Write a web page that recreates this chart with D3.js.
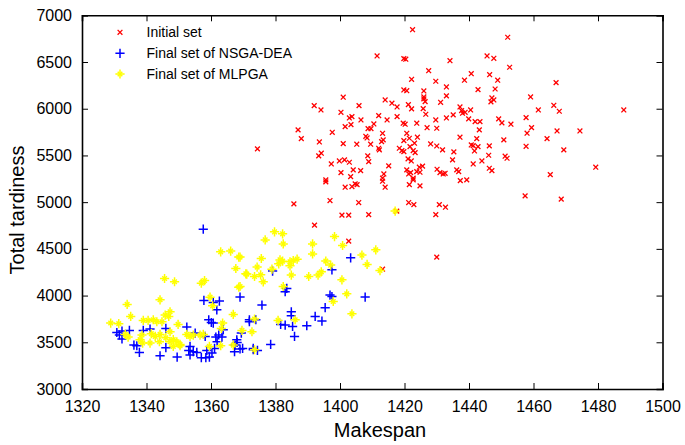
<!DOCTYPE html>
<html><head><meta charset="utf-8">
<script src="https://cdn.jsdelivr.net/npm/d3@7"></script>
<style>body{margin:0;background:#fff}svg{display:block}text{font-family:"Liberation Sans",Arial,sans-serif}</style>
</head><body><svg id="c" width="685" height="445"></svg>
<script>
const xTicks=[1320,1340,1360,1380,1400,1420,1440,1460,1480,1500];
const yTicks=[3000,3500,4000,4500,5000,5500,6000,6500,7000];
const seriesNames=["Initial set","Final set of NSGA-DEA","Final set of MLPGA"];
const initialSet=[
[1422.5,6846],[1411.5,6565],[1419.8,6536],[1420.4,6530],[1434.1,6514],[1445.6,6565],[1447.7,6540],[1427.5,6407],[1422.2,6315],[1429.7,6294],[1438.6,6305],[1440.7,6375],[1446.4,6364],[1448.9,6305],[1419.8,6201],[1420.7,6193],[1426,6190],[1433,6233],[1433,6137],[1442.8,6204],[1448.1,6211],[1447.1,6115],[1447.7,6094],[1446.8,6073],[1401,6123],[1426,6126],[1426,6105],[1426.4,6076],[1431.2,6069],[1414,6094],[1416.1,6059],[1417.7,6019],[1421.2,6044],[1422.2,5998],[1425.8,6001],[1426.6,5941],[1392,6033],[1394.1,5987],[1400.3,5962],[1405.9,6033],[1437.2,6019],[1437.7,5980],[1438,5952],[1438.8,5962],[1440.5,5987],[1433,5901],[1435.1,5934],[1439.9,5891],[1441.9,5862],[1443.4,5862],[1449.2,5891],[1402.9,5901],[1403.7,5915],[1406.5,5880],[1412,5926],[1414.6,5880],[1417.7,5915],[1401.6,5808],[1403.4,5830],[1408.7,5787],[1409.6,5787],[1410.5,5837],[1419.6,5845],[1420.2,5834],[1423.8,5845],[1429.7,5880],[1427,5797],[1430,5791],[1387,5773],[1388,5680],[1397.6,5748],[1393.6,5644],[1401,5626],[1405.2,5620],[1408,5705],[1408.4,5687],[1409.5,5620],[1413.2,5737],[1413.4,5666],[1412.9,5648],[1420.7,5737],[1419.8,5658],[1421.5,5684],[1424,5695],[1423.1,5631],[1421.7,5594],[1428.1,5623],[1430,5601],[1431.8,5559],[1437.2,5695],[1440.7,5612],[1441.3,5605],[1442.8,5594],[1442.4,5680],[1443.2,5773],[1446.3,5602],[1412,5577],[1412.2,5559],[1418.4,5577],[1419.2,5551],[1422.7,5551],[1423.3,5530],[1419.8,5541],[1393.4,5495],[1394.2,5524],[1408.6,5495],[1408.9,5434],[1421.1,5463],[1422.1,5441],[1435.3,5538],[1434.9,5452],[1441.7,5548],[1444,5441],[1446.1,5502],[1397.3,5409],[1399.8,5441],[1401.4,5452],[1402.9,5427],[1415.1,5388],[1424.6,5374],[1425.6,5385],[1441.3,5409],[1446.3,5363],[1447.1,5337],[1400.3,5316],[1404.1,5345],[1403.3,5273],[1406.4,5337],[1413.6,5302],[1413.2,5256],[1420.7,5345],[1421.3,5302],[1421.9,5316],[1423.8,5327],[1424.8,5320],[1422.7,5256],[1430.1,5352],[1431,5316],[1432,5302],[1432.6,5309],[1436.2,5345],[1436.8,5327],[1439.3,5238],[1437.3,5231],[1395.6,5238],
[1452,6765],[1452.6,6444],[1467,6279],[1459.1,6126],[1461.5,5987],[1466.3,6037],[1468,5973],[1488,5987],[1457.7,5905],[1459.4,5798],[1458,5738],[1453,5834],[1450.2,5848],[1467.3,5762],[1474.4,5762],[1464.2,5680],[1450.8,5666],[1457.7,5598],[1469.4,5559],[1451.2,5492],[1451.8,5470],[1479.3,5374],[1465.2,5295],[1457.4,5067],[1468.6,5032],
[1395.6,5217],[1401.6,5160],[1403.7,5167],[1404.7,5196],[1405.3,5188],[1413.2,5224],[1414,5160],[1421.5,5188],[1424.8,5174],[1422.7,5238],[1385.7,4982],[1396.9,5017],[1405.8,4996],[1421.3,4996],[1422.9,4974],[1430.8,4974],[1432.7,4946],[1400.6,4861],[1402.7,4861],[1408.9,4867],[1417.6,4904],[1429.7,4867],[1392.1,4754],[1402.7,4583],[1430,4412],[1413.2,4283],[1374.4,5570]
];
const nsgaDea=[
[1403.3,4404],[1397.5,4276],[1379.1,4262],[1383.5,4076],[1383,4041],[1396.9,4005],[1397.5,3990],[1407.8,3984],[1369,3984],[1375.8,3898],[1395.4,3870],[1384.9,3827],[1384.9,3784],[1392.3,3777],[1394.4,3727],[1371.9,3720],[1381.6,3691],[1383,3684],[1385.3,3670],[1389.7,3677],[1385.9,3563],[1369.4,3599],[1378.5,3477],[1369,3428],[1373.1,3420],[1374.4,3413],
[1357.6,4711],[1357.8,3948],[1360.7,3926],[1362.6,3941],[1361.8,3848],[1359.3,3741],[1360.1,3712],[1360.7,3706],[1371.9,3741],[1373.9,3741],[1363.8,3634],[1362.4,3578],[1361.5,3556],[1363.4,3556],[1368,3527],[1367.5,3470],[1368.1,3498],[1369.8,3434],[1373.1,3434],[1367.3,3399],[1361.1,3434],[1358.7,3413],[1360.3,3385],[1359.5,3342],[1358.4,3335],[1357,3335],[1353.5,3456],[1353.1,3413],[1353.5,3364],[1354.5,3399],[1355.6,3391],[1355.1,3599],[1352.5,3663],[1346,3648],[1341.1,3642],[1339,3627],[1334.7,3627],[1330.8,3605],[1331.6,3578],[1332.4,3535],[1336.1,3470],[1337,3463],[1337.8,3392],[1344.2,3356],[1346,3442],[1349.5,3342],[1358.2,3563],[1361.9,3506],[1332.4,3620]
];
const mlpga=[
[1417.1,4904],[1379.7,4682],[1382.2,4661],[1376.8,4596],[1382.4,4553],[1391.5,4553],[1391.5,4446],[1398.3,4632],[1400.8,4536],[1411.1,4490],[1406.8,4433],[1408.4,4333],[1375.6,4397],[1381.4,4382],[1382.2,4368],[1381,4340],[1384.5,4361],[1385.5,4375],[1386.7,4390],[1384.5,4318],[1369,4412],[1395.6,4369],[1397.1,4326],[1374.3,4305],[1378.9,4283],[1371.1,4230],[1373.5,4204],[1375.4,4222],[1384.9,4219],[1390.3,4204],[1393.2,4219],[1394.2,4254],[1412.4,4268],[1376.2,4147],[1400.6,4169],[1369,4097],[1382.4,4097],[1402.1,4019],[1397.9,3937],[1403.7,3805],[1373.5,3749],[1380.8,3734],[1386.1,3741],[1369.6,3627],[1372.7,3613],[1373.5,3420],
[1363,4468],[1366.1,4476],[1368.6,4412],[1367.7,4290],[1370.8,4233],[1345.6,4183],[1348.7,4148],[1357,4133],[1358,4161],[1368.6,4090],[1344.2,3955],[1359.7,3983],[1360.5,3890],[1334,3905],[1335.1,3777],[1366.9,3798],[1363.6,3706],[1339,3734],[1340.5,3734],[1342.1,3741],[1343.2,3720],[1345.8,3791],[1346.9,3776],[1347.3,3827],[1344.8,3720],[1349.8,3691],[1328.9,3706],[1331.4,3699],[1338.6,3578],[1341.5,3592],[1342.7,3563],[1344.2,3584],[1347.3,3613],[1348.3,3528],[1349.4,3506],[1350.4,3477],[1347.3,3506],[1348.3,3456],[1352.5,3584],[1353.5,3563],[1354.5,3577],[1356.6,3577],[1357.6,3584],[1363.2,3648],[1359.5,3456],[1363,3463],[1366.9,3470],[1333.4,3584],[1334.3,3556],[1338,3528],[1338.8,3492],[1341.1,3492],[1346,3549],[1344,3506],[1350.4,3463]
];

const M={l:82,r:662.5,t:15.3,b:389};
const svg=d3.select("#c");
const x=d3.scaleLinear().domain([1320,1500]).range([M.l,M.r]);
const y=d3.scaleLinear().domain([3000,7000]).range([M.b,M.t]);

function xMark(g,px,py,s){g.append("path").attr("d",`M${px-s},${py-s}L${px+s},${py+s}M${px-s},${py+s}L${px+s},${py-s}`);}
function plusMark(g,px,py,s){g.append("path").attr("d",`M${px-s},${py}L${px+s},${py}M${px},${py-s}L${px},${py+s}`);}
function starMark(g,px,py,s){plusMark(g,px,py,s);xMark(g,px,py,s*0.5);}
const red=()=>svg.append("g").attr("stroke","#ff0000").attr("stroke-width",1.3).attr("fill","none");
const blue=()=>svg.append("g").attr("stroke","#0000ff").attr("stroke-width",1.5).attr("fill","none");
const yel=()=>svg.append("g").attr("stroke","#ffff00").attr("stroke-width",1.5).attr("fill","none");
const gR=red(); initialSet.forEach(d=>xMark(gR,x(d[0]),y(d[1]),2.4));
const gB=blue(); nsgaDea.forEach(d=>plusMark(gB,x(d[0]),y(d[1]),4.6));
const gY=yel(); mlpga.forEach(d=>starMark(gY,x(d[0]),y(d[1]),4.6));

const axB=svg.append("g").attr("transform",`translate(0,${M.b})`).call(d3.axisBottom(x).tickValues(xTicks).tickSize(-6).tickPadding(12).tickFormat(d3.format("d")));
const axL=svg.append("g").attr("transform",`translate(${M.l},0)`).call(d3.axisLeft(y).tickValues(yTicks).tickSize(-6).tickPadding(10).tickFormat(d3.format("d")));
const axT=svg.append("g").attr("transform",`translate(0,${M.t})`).call(d3.axisTop(x).tickValues(xTicks).tickSize(-6).tickFormat(""));
const axR=svg.append("g").attr("transform",`translate(${M.r},0)`).call(d3.axisRight(y).tickValues(yTicks).tickSize(-6).tickFormat(""));
[axB,axL,axT,axR].forEach(a=>{a.select(".domain").attr("stroke","#000").attr("stroke-width",1.6);a.selectAll(".tick line").attr("stroke","#000").attr("stroke-width",1);a.selectAll("text").attr("font-size",16).attr("fill","#000").attr("font-family","Liberation Sans, Arial, sans-serif");});

svg.append("text").attr("x",380).attr("y",437).attr("text-anchor","middle").attr("font-size",20).text("Makespan");
svg.append("text").attr("transform","translate(24,210) rotate(-90)").attr("text-anchor","middle").attr("font-size",20).text("Total tardiness");

const leg=svg.append("g");
const rows=[32.3,53.3,74];
seriesNames.forEach((n,i)=>{
  leg.append("text").attr("x",146.5).attr("y",rows[i]+5).attr("font-size",14).text(n);
});
xMark(red(),120,rows[0],2.4);
plusMark(blue(),120,rows[1],4.6);
starMark(yel(),120,rows[2],4.6);
</script></body></html>
